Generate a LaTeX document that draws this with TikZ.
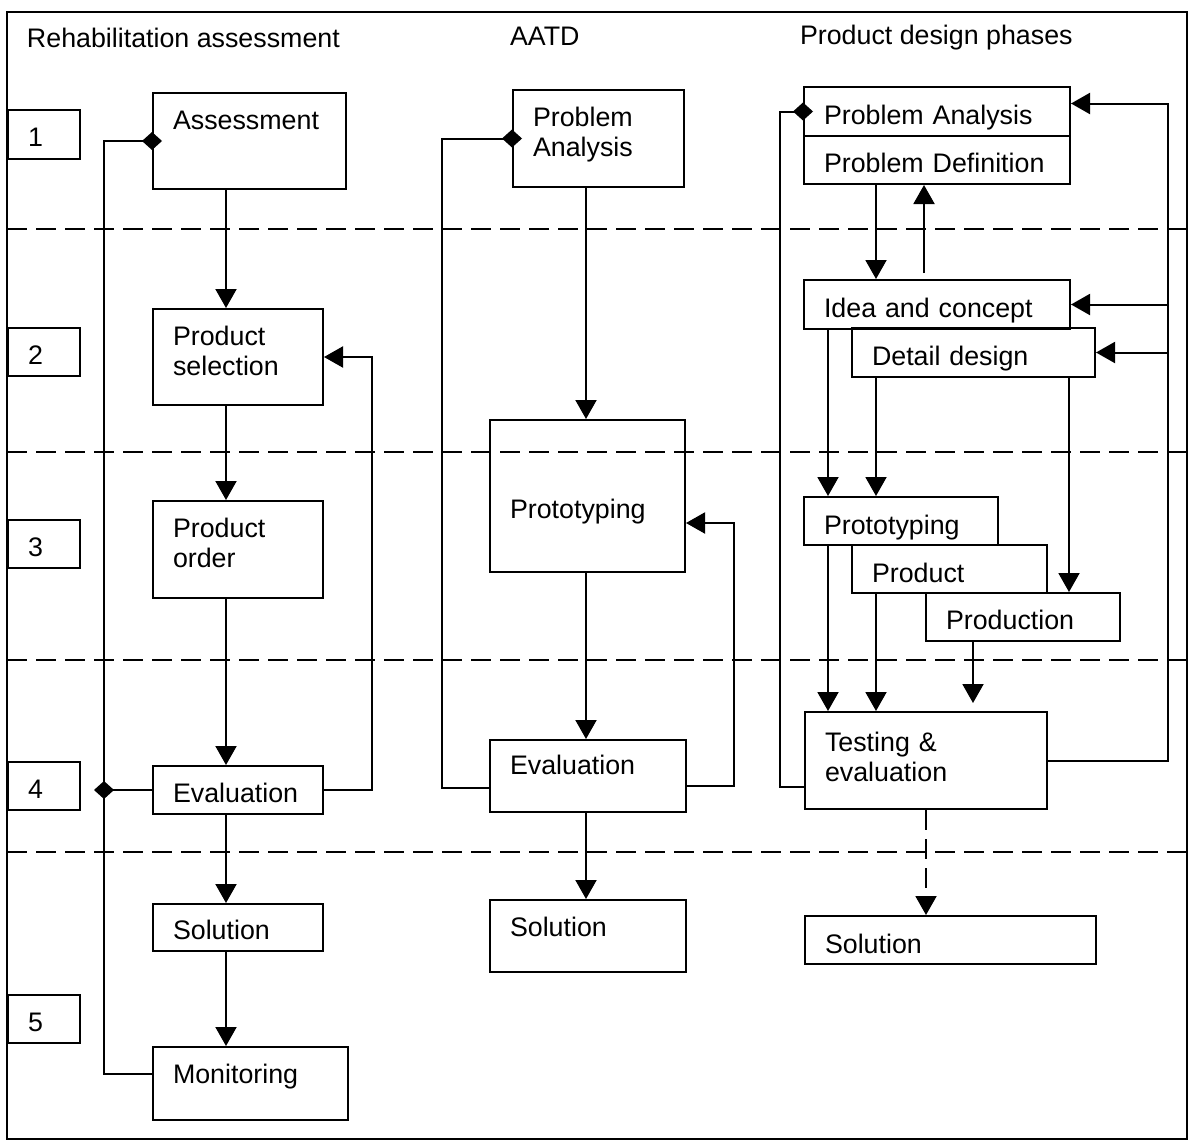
\documentclass[tikz,border=0pt]{standalone}
\usepackage{fontspec}
\setmainfont{Liberation Sans}
\usetikzlibrary{arrows.meta}

\newcommand{\lblfont}{\fontsize{26.8}{30}\selectfont}

\tikzset{
  stage/.style n args={3}{draw=black, line width=2pt, anchor=north west,
    inner xsep=20pt, inner ysep=0pt, align=left, font=\lblfont,
    text width=#1, text height=#2, text depth=#3},
  heading/.style={anchor=base west, inner sep=0pt, font=\lblfont},
  arr/.style={-{Triangle[length=19pt,width=21pt]}},
  dstart/.style={{Diamond[length=20pt,width=18pt]}-, shorten <=-10pt},
  dend/.style={-{Diamond[length=20pt,width=18pt]}, shorten >=-10pt},
  phase/.style={dash pattern=on 20pt off 9pt}
}

\begin{document}
\begin{tikzpicture}[x=1pt, y=-1pt, line width=2pt]
      \useasboundingbox (0,0) rectangle (1189,1140);

      \draw (7,12) rectangle (1187,1139);

      % phase separators
      \foreach \y in {229,452,660,852}
        \draw[phase] (7,\y) -- (1189,\y);

      % headings
      \node (ttlRA) at (26,48) [heading] {Rehabilitation assessment};

      \node (ttlAATD) at (509,46) [heading] {AATD};

      \node (ttlPD) at (799,45) [heading] {Product design phases};

      % phase numbers
      \node (num1) at (7,109) [stage={32pt}{36pt}{13pt}] {1};

      \node (num2) at (7,327) [stage={32pt}{36pt}{12pt}] {2};

      \node (num3) at (7,519) [stage={32pt}{36pt}{12pt}] {3};

      \node (num4) at (7,761) [stage={32pt}{36pt}{12pt}] {4};

      \node (num5) at (7,994) [stage={32pt}{36pt}{12pt}] {5};

      % rehabilitation assessment
      \node (assess) at (152,92) [stage={153pt}{36pt}{60pt}] {Assessment};

      \node (prodsel) at (152,308) [stage={130pt}{36pt}{60pt}]
      {Product\\selection};

      \node (prodord) at (152,500) [stage={130pt}{36pt}{61pt}]
      {Product\\order};

      \node (evalL) at (152,765) [stage={130pt}{36pt}{12pt}] {Evaluation};

      \node (solL) at (152,903) [stage={130pt}{35pt}{12pt}] {Solution};

      \node (monit) at (152,1046) [stage={155pt}{36pt}{37pt}] {Monitoring};

      % AATD
      \node (probM) at (512,89) [stage={131pt}{36pt}{61pt}]
      {Problem\\Analysis};

      \node (protoM) at (489,419) [stage={155pt}{98pt}{54pt}] {Prototyping};

      \node (evalM) at (489,739) [stage={156pt}{34pt}{38pt}] {Evaluation};

      \node (solM) at (489,899) [stage={156pt}{36pt}{36pt}] {Solution};

      % product design phases
      \node (probA) at (803,86) [stage={226pt}{37pt}{12pt}] {Problem Analysis};

      \node (probD) at (803,135) [stage={226pt}{36pt}{12pt}] {Problem Definition};

      \node (idea) at (803,279) [stage={226pt}{37pt}{12pt}] {Idea and concept};

      \node (detail) at (851,327) [stage={203pt}{37pt}{12pt}] {Detail design};

      \node (protoR) at (803,496) [stage={154pt}{37pt}{11pt}] {Prototyping};

      \node (product) at (851,544) [stage={155pt}{37pt}{11pt}] {Product};

      \node (production) at (925,592) [stage={154pt}{36pt}{12pt}] {Production};

      \node (testing) at (804,711) [stage={202pt}{39pt}{58pt}]
      {Testing \&\\evaluation};

      \node (solR) at (804,915) [stage={251pt}{37pt}{11pt}] {Solution};

      \coordinate (xL) at (226,0);
      \coordinate (xM) at (586,0);
      \coordinate (xR1) at (828,0);
      \coordinate (xR2) at (876,0);
      \coordinate (xR4) at (973,0);
      \coordinate (xR5) at (1069,0);
      \coordinate (upR) at (924,273);

      % left column
      \draw[arr] (assess.south -| xL) -- (prodsel.north -| xL);

      \draw[arr] (prodsel.south -| xL) -- (prodord.north -| xL);

      \draw[arr] (prodord.south -| xL) -- (evalL.north -| xL);

      \draw[arr] (evalL.south -| xL) -- (solL.north -| xL);

      \draw[arr] (solL.south -| xL) -- (monit.north -| xL);

      \draw[arr] (evalL.east) -- ++(48,0) |- (prodsel.east);

      \draw[dstart] (assess.west) -| ([xshift=-48pt,yshift=10pt]monit.west)
      -- ([yshift=10pt]monit.west);

      \draw[dend] (evalL.west) -- ([xshift=-48pt]evalL.west);

      % middle column
      \draw[arr] (probM.south -| xM) -- (protoM.north -| xM);

      \draw[arr] (protoM.south -| xM) -- (evalM.north -| xM);

      \draw[arr] (evalM.south -| xM) -- (solM.north -| xM);

      \draw[arr] ([yshift=-10pt]evalM.east) -- ++(47,0)
      |- ([yshift=-27pt]protoM.east);

      \draw[dstart] (probM.west) -| ([xshift=-47pt,yshift=-12pt]evalM.west)
      -- ([yshift=-12pt]evalM.west);

      % right column
      \draw[arr] (probD.south -| xR2) -- (idea.north -| xR2);

      \draw[arr] (upR) -- (probD.south -| upR);

      \draw[arr] (idea.south -| xR1) -- (protoR.north -| xR1);

      \draw[arr] (detail.south -| xR2) -- (protoR.north -| xR2);

      \draw[arr] (detail.south -| xR5) -- (production.north -| xR5);

      \draw[arr] (protoR.south -| xR1) -- (testing.north -| xR1);

      \draw[arr] (product.south -| xR2) -- (testing.north -| xR2);

      \draw[arr, shorten >=8pt] (production.south -| xR4)
      -- (testing.north -| xR4);

      \draw[arr, phase] (testing.south) -- (testing.south |- solR.north);

      \draw[arr] (testing.east) -| ([xshift=97pt,yshift=8pt]probA.east)
      -- ([yshift=8pt]probA.east);

      \draw[arr] ([xshift=97pt]idea.east) -- (idea.east);

      \draw[arr] ([xshift=72pt]detail.east) -- (detail.east);

      \draw[dstart] (probA.west) -| ([xshift=-24pt,yshift=-26pt]testing.west)
      -- ([yshift=-26pt]testing.west);
    \end{tikzpicture}
\end{document}
